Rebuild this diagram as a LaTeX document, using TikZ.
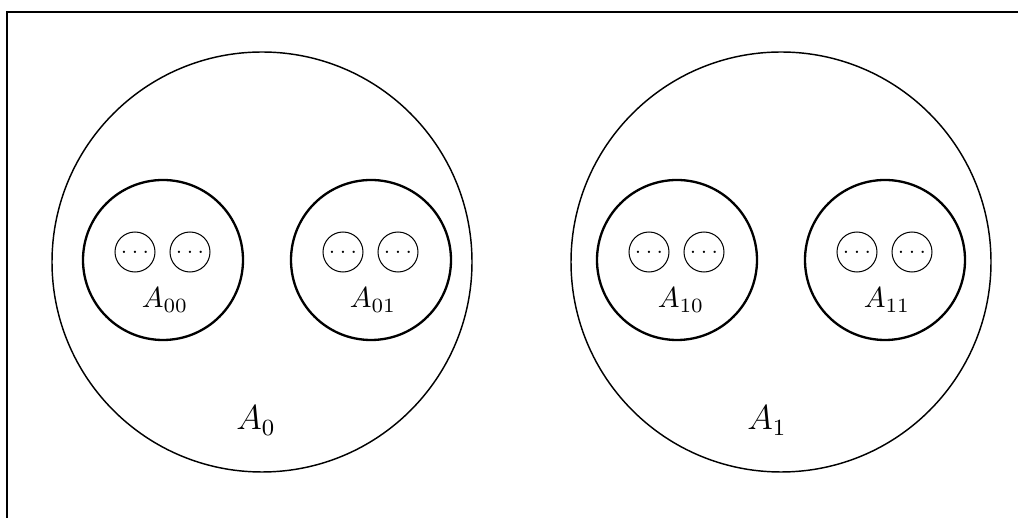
\documentclass[tikz,border=0pt]{standalone}
\begin{document}
\begin{tikzpicture}[x=0.345pt,y=-0.345pt,
  bigc/.style={circle,draw,line width=0.5pt,minimum size=144.9pt,inner sep=0pt},
  midc/.style={circle,draw,line width=0.8pt,minimum size=55.2pt,inner sep=0pt},
  smallc/.style={circle,draw,line width=0.35pt,minimum size=13.8pt,inner sep=0pt,font=\scriptsize},
  lab/.style={inner sep=0pt,anchor=base},
  biglab/.style={inner sep=0pt,anchor=base,font=\large}]
\useasboundingbox (0,0) rectangle (1018,518);
\draw[line width=0.8pt] (7,520) -- (7,12) -- (1020,12);
% big circles
\node[bigc] (A0) at (262,262) {};
\node[bigc] (A1) at (781,262) {};
% medium circles
\node[midc] (A00) at (163,260) {};
\node[midc] (A01) at (371,260) {};
\node[midc] (A10) at (677,260) {};
\node[midc] (A11) at (885,260) {};
% small circles
\foreach \n/\c in {A00/163,A01/371,A10/677,A11/885}{
  \node[smallc] (\n a) at (\c-28,252) {$\ldots$};
  \node[smallc] (\n b) at (\c+27,252) {$\ldots$};
}
% labels
\node[lab] (l00) at (165,308) {$A_{00}$};
\node[lab] (l01) at (373,308) {$A_{01}$};
\node[lab] (l10) at (681,308) {$A_{10}$};
\node[lab] (l11) at (887,308) {$A_{11}$};
\node[biglab] (l0) at (256,430) {$A_0$};
\node[biglab] (l1) at (767,430) {$A_1$};
\end{tikzpicture}
\end{document}
